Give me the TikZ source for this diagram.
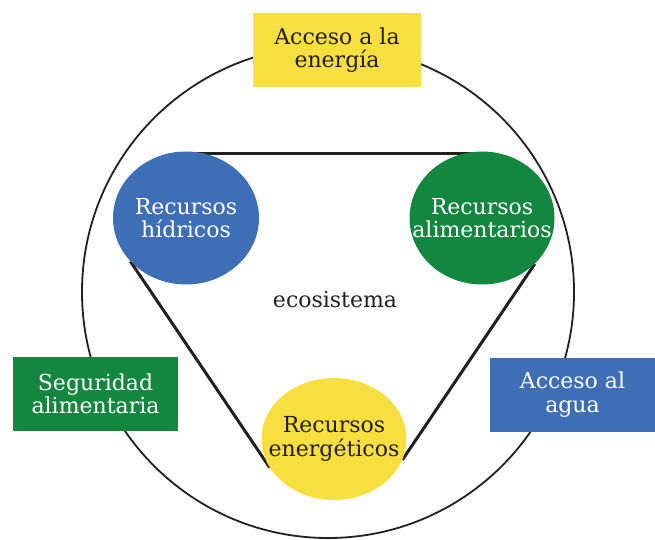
\documentclass[tikz,border=0pt]{standalone}
\usepackage{fontspec}
\setmainfont{DejaVu Serif}
\usetikzlibrary{shapes.geometric,backgrounds}
\definecolor{cyel}{HTML}{F6DF3F}
\definecolor{cblue}{HTML}{3E6FB6}
\definecolor{cgreen}{HTML}{13873F}
\definecolor{cink}{HTML}{231F20}
\begin{document}
\begin{tikzpicture}[x=1pt,y=-1pt,
  txt/.style={align=center, font=\fontsize{22}{23.5}\selectfont},
  circ/.style={ellipse, inner sep=0pt, minimum width=146pt, minimum height=133pt},
  box/.style={txt, rectangle, inner sep=0pt, minimum height=74pt},
  link/.style={line width=3pt, draw=cink},
  rim/.style={circle, draw=cink, line width=1.8pt, inner sep=0pt, minimum size=492pt}]
\useasboundingbox (0,0) rectangle (655,540);
\node[rim] (eco) at (328,292) {};
\node[txt, text=cink] (lbl) at (335,300) {ecosistema};
\node[box, fill=cyel, text=cink, minimum width=168pt] (energia) at (337,50) {Acceso a la\\energía};
\node[box, fill=cgreen, text=white, minimum width=165pt] (seg) at (95.5,394) {Seguridad\\alimentaria};
\node[box, fill=cblue, text=white, minimum width=165pt] (agua) at (572.5,394.5) {Acceso al\\agua};
\node[circ, fill=cblue, label={[txt, text=white]center:Recursos\\hídricos}] (hid) at (186,218) {};
\node[circ, fill=cgreen, minimum width=145pt, label={[txt, text=white]center:Recursos\\alimentarios}] (ali) at (482,218) {};
\node[circ, fill=cyel, minimum width=145pt, minimum height=122pt, label={[txt, text=cink]center:Recursos\\energéticos}] (ene) at (334,439) {};
\begin{scope}[on background layer]
  \draw[link] ([yshift=-2pt]hid.north) -- ([yshift=-2pt]ali.north);
  \draw[link] (hid.218) -- (ene.204);
  \draw[link] (ali.319) -- (ene.343);
\end{scope}
\end{tikzpicture}
\end{document}
